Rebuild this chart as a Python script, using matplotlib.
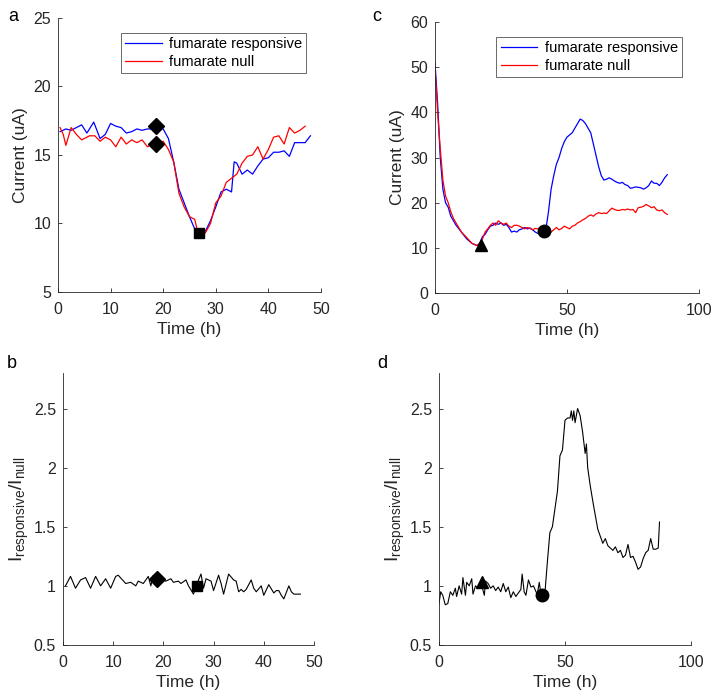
import matplotlib
matplotlib.use('Agg')
import matplotlib.pyplot as plt
import numpy as np

plt.rcParams['font.family'] = ['Liberation Sans', 'DejaVu Sans']
plt.rcParams['mathtext.default'] = 'regular'

# panel a: current traces (short run)
t_a_resp = [0.4, 1.5, 2.5, 3.5, 4.5, 5.5, 6.8, 8, 9, 10, 11, 12, 13, 14, 15, 16, 17, 18, 18.7,
            20, 21, 22, 23, 24, 25, 26, 27, 28, 29, 30, 31, 32, 33, 33.5, 34, 35, 36, 37, 38,
            39, 40, 41, 42, 43, 44, 45, 46, 47, 48]
i_a_resp = [16.7, 16.9, 16.8, 17.0, 17.2, 16.6, 17.4, 16.2, 16.5, 17.3, 17.1, 17.0, 16.6, 16.7,
            16.9, 16.8, 16.9, 16.9, 17.1, 16.9, 16.2, 14.5, 12.5, 11.5, 10.5, 9.6, 9.2, 9.4,
            10.2, 11.2, 12.3, 12.5, 12.3, 14.5, 14.4, 13.6, 13.9, 13.6, 14.2, 14.7, 14.8, 15.2,
            15.2, 15.3, 14.9, 15.9, 15.9, 15.9, 16.4]
t_a_null = [0.4, 1, 1.5, 2.5, 3.5, 4.5, 6, 7, 8, 9, 10, 11, 12, 13, 14, 15, 16, 17, 18, 19, 20,
            21, 22, 23, 24, 25, 26, 26.5, 27, 28, 29, 30, 31, 32, 33, 34, 35, 36, 37, 38, 39,
            40, 41, 42, 43, 44, 45, 46, 47]
i_a_null = [17.0, 16.5, 15.7, 17.0, 16.5, 16.1, 16.4, 16.4, 16.0, 16.3, 16.1, 15.6, 16.3, 15.8,
            16.1, 15.9, 16.1, 15.6, 15.8, 15.8, 16.0, 15.4, 14.5, 12.2, 11.2, 10.5, 10.3, 9.5,
            9.2, 9.3, 10.0, 11.5, 12.0, 13.0, 13.3, 13.6, 14.4, 14.9, 15.0, 15.6, 14.7, 15.4,
            16.3, 16.4, 15.8, 17.0, 16.6, 16.8, 17.1]

# panel b: ratio (short run)
t_b = [0.5, 1.5, 2.5, 3.5, 4.5, 5.5, 6.5, 7.5, 8.5, 9.5, 10.5, 11, 12.5, 13.5, 14.5, 15, 16, 17,
       17.5, 18, 18.7, 19.5, 20.5, 21.5, 22, 23, 23.5, 24.5, 25, 26, 27, 27.5, 28, 28.5, 29.5,
       30, 31, 31.5, 32, 33, 34, 34.5, 35, 35.5, 36, 36.5, 37.5, 38, 38.5, 39.5, 40, 41, 42,
       42.5, 43, 43.5, 44, 45, 45.5, 46, 47.3]
r_b = [1.0, 1.08, 0.98, 1.05, 1.07, 0.98, 1.08, 1.0, 1.06, 0.98, 1.08, 1.09, 1.02, 1.03, 1.0,
       1.04, 1.02, 1.08, 1.0, 1.09, 1.06, 1.05, 1.04, 1.06, 1.03, 1.04, 1.02, 1.05, 1.0, 0.93,
       1.05, 1.1, 0.98, 1.06, 1.04, 0.96, 1.09, 1.02, 0.93, 1.1, 1.05, 1.04, 0.95, 0.97, 0.95,
       0.97, 1.05, 0.98, 0.95, 1.0, 0.92, 1.01, 0.94, 0.96, 0.96, 0.92, 0.89, 1.0, 0.95, 0.93,
       0.93]

# panel c: current traces (long run)
t_c = [0, 1, 2, 3, 4, 5, 6, 7, 8, 10, 12, 14, 16, 17, 18, 19, 20, 21, 22, 23, 24, 25, 26, 27,
       28, 29, 30, 31, 32, 33, 34, 35, 36, 37, 38, 39, 40, 41, 42, 43, 44, 45, 46, 47, 48, 49,
       50, 51, 52, 53, 54, 55, 56, 57, 58, 59, 60, 61, 62, 63, 64, 65, 66, 67, 68, 69, 70, 71,
       72, 73, 74, 75, 76, 77, 78, 79, 80, 81, 82, 83, 84, 85, 86, 87, 88]
i_c_resp = [51, 42, 30, 23, 20, 19, 17, 16, 15, 13.5, 12, 11, 10.5, 11, 12.5, 13, 14, 14.8, 15,
            15.5, 15.2, 15.5, 15, 15.2, 14.5, 13.5, 13.7, 13.5, 14, 14.2, 14.5, 14.2, 14.4, 14,
            13.5, 13.2, 13, 13.5, 14, 18, 23, 26, 28.5, 30, 32, 33.5, 34.5, 35, 35.5, 36.5, 37.5,
            38.5, 38.2, 37.5, 36.5, 35.5, 33, 30.5, 28, 26, 25, 25.2, 25.5, 25.2, 24.8, 24.5,
            24.3, 24.5, 24, 23.8, 23.2, 23.3, 23.5, 23.4, 23.3, 23, 23.3, 23.8, 24.8, 24.3, 24.3,
            23.8, 24.5, 25.5, 26.2]
i_c_null = [50, 40, 32, 25, 21.5, 20, 18, 16.5, 15.5, 13.5, 12.3, 11, 10.5, 11, 12, 13.5, 14.2,
            15, 15.5, 15, 16, 15.5, 15.2, 15.5, 14.8, 14.5, 15, 15, 14.8, 14.5, 14.2, 14.5, 14.3,
            14, 14.3, 14.2, 14.5, 14, 13.5, 13.2, 13.5, 14, 14.5, 14, 14.3, 14.8, 14.5, 14.2,
            14.8, 15, 15.5, 15.8, 16.2, 16.5, 17, 17.3, 17, 17.5, 17.8, 17.6, 17.7, 17.6, 18.2,
            18.8, 18.5, 18.3, 18.3, 18.5, 18.4, 18.6, 18.4, 18.5, 17.8, 18.9, 19, 19.2, 19.6,
            19.3, 18.9, 19.1, 18.4, 18.2, 18.4, 17.8, 17.4]

# panel d: ratio (long run)
t_d = [0, 0.7, 1.5, 2.5, 3.5, 4.5, 5.5, 6.5, 7, 8, 9, 9.5, 10.5, 11, 12, 13, 13.5, 14.5, 15.5,
       16.5, 17, 18, 18.5, 19.5, 20.5, 21.5, 22.5, 23.5, 24.5, 25.5, 26.5, 27.5, 28.5, 29.5,
       30.5, 31.5, 32.5, 33, 33.8, 34.5, 35.5, 36.5, 37.5, 38.5, 39, 39.8, 40.3, 41, 42, 43, 44,
       45, 46, 47, 48, 49, 50, 51, 52, 52.5, 53, 53.5, 54, 55, 56, 57, 58, 58.5, 59, 60, 61, 62,
       63, 64, 65, 66, 67, 68, 69, 70, 71, 72, 73, 74, 75, 76, 77, 78, 79, 80, 81, 82, 83, 84,
       85, 86, 87, 87.5]
r_d = [0.85, 0.95, 0.92, 0.84, 0.85, 0.95, 0.92, 0.98, 0.91, 1.0, 0.93, 1.07, 0.92, 1.03, 1.0,
       1.06, 0.93, 1.0, 0.98, 1.03, 1.0, 0.92, 1.04, 1.02, 0.98, 1.0, 0.96, 0.99, 0.95, 1.02,
       0.95, 0.99, 0.9, 0.95, 0.91, 0.94, 0.97, 1.1, 0.95, 0.92, 1.05, 0.99, 1.0, 0.95, 0.93,
       1.03, 0.95, 0.92, 0.93, 1.2, 1.45, 1.5, 1.65, 1.8, 2.1, 2.15, 2.4, 2.42, 2.42, 2.48, 2.4,
       2.48, 2.38, 2.5, 2.44, 2.3, 2.12, 2.2, 2.0, 1.85, 1.72, 1.6, 1.48, 1.42, 1.36, 1.4, 1.34,
       1.32, 1.3, 1.33, 1.28, 1.3, 1.24, 1.26, 1.35, 1.24, 1.25, 1.2, 1.14, 1.16, 1.23, 1.28,
       1.3, 1.4, 1.31, 1.31, 1.32, 1.54]

# event markers
a_diamond_t = [18.7, 18.7]
a_diamond_i = [17.1, 15.8]
a_square = (26.8, 9.3)
b_diamond = (18.7, 1.06)
b_square = (26.7, 1.0)
c_triangle = (17.3, 10.7)
c_circle = (41.3, 13.8)
d_triangle = (17.0, 1.03)
d_circle = (41.0, 0.92)

txt = '#262626'
lab_fs = 12.5
tick_fs = 11.5

fig = plt.figure(figsize=(7.14, 6.99), dpi=100)
ax_a = fig.add_axes([0.0812, 0.5823, 0.3683, 0.392])
ax_c = fig.add_axes([0.6092, 0.5808, 0.3697, 0.3877])
ax_b = fig.add_axes([0.0882, 0.0773, 0.3515, 0.389])
ax_d = fig.add_axes([0.6148, 0.0773, 0.353, 0.389])


def style(ax):
    for s in ['top', 'right']:
        ax.spines[s].set_visible(False)
    for s in ['left', 'bottom']:
        ax.spines[s].set_color(txt)
        ax.spines[s].set_linewidth(0.6)
    ax.tick_params(direction='in', length=3, width=0.6, colors=txt, labelsize=tick_fs)
    ax.tick_params(axis='x', pad=7)
    ax.tick_params(axis='y', pad=5)
    ax.set_xlabel('Time (h)', fontsize=lab_fs, color=txt, labelpad=4)


def add_legend(ax, anchor):
    leg = ax.legend(loc='upper right', bbox_to_anchor=anchor, fontsize=10.5, frameon=True,
                    fancybox=False, edgecolor=txt, handlelength=2.5, borderpad=0.3,
                    labelspacing=0.25, handletextpad=0.5, borderaxespad=0)
    leg.get_frame().set_linewidth(0.6)


# a
ax_a.plot(t_a_resp, i_a_resp, color='blue', lw=0.9, label='fumarate responsive')
ax_a.plot(t_a_null, i_a_null, color='red', lw=0.9, label='fumarate null')
ax_a.plot(a_diamond_t, a_diamond_i, 'kD', ms=8)
ax_a.plot(*a_square, 'ks', ms=7)
ax_a.set_xlim(0, 50)
ax_a.set_ylim(5, 25)
ax_a.set_xticks([0, 10, 20, 30, 40, 50])
ax_a.set_yticks([5, 10, 15, 20, 25])
ax_a.set_ylabel('Current (uA)', fontsize=lab_fs, color=txt)
style(ax_a)
add_legend(ax_a, (0.945, 0.945))

# c
ax_c.plot(t_c, i_c_resp, color='blue', lw=0.9, label='fumarate responsive')
ax_c.plot(t_c, i_c_null, color='red', lw=0.9, label='fumarate null')
ax_c.plot(*c_triangle, 'k^', ms=9)
ax_c.plot(*c_circle, 'ko', ms=9)
ax_c.set_xlim(0, 100)
ax_c.set_ylim(0, 60)
ax_c.set_xticks([0, 50, 100])
ax_c.set_yticks([0, 10, 20, 30, 40, 50, 60])
ax_c.set_ylabel('Current (uA)', fontsize=lab_fs, color=txt)
style(ax_c)
add_legend(ax_c, (0.936, 0.945))

# b
ax_b.plot(t_b, r_b, color='black', lw=0.8)
ax_b.plot(*b_diamond, 'kD', ms=8)
ax_b.plot(*b_square, 'ks', ms=7)
ax_b.set_xlim(0, 50)
ax_b.set_ylim(0.5, 2.8)
ax_b.set_xticks([0, 10, 20, 30, 40, 50])
ax_b.set_yticks([0.5, 1, 1.5, 2, 2.5])
ax_b.set_yticklabels(['0.5', '1', '1.5', '2', '2.5'])
ax_b.set_ylabel('I$_{responsive}$/I$_{null}$', fontsize=14, color=txt, labelpad=2)
style(ax_b)

# d
ax_d.plot(t_d, r_d, color='black', lw=0.8)
ax_d.plot(*d_triangle, 'k^', ms=9)
ax_d.plot(*d_circle, 'ko', ms=9)
ax_d.set_xlim(0, 100)
ax_d.set_ylim(0.5, 2.8)
ax_d.set_xticks([0, 50, 100])
ax_d.set_yticks([0.5, 1, 1.5, 2, 2.5])
ax_d.set_yticklabels(['0.5', '1', '1.5', '2', '2.5'])
ax_d.set_ylabel('I$_{responsive}$/I$_{null}$', fontsize=14, color=txt, labelpad=2)
style(ax_d)

# panel letters
for lab, x, y in [('a', 0.012, 0.988), ('c', 0.522, 0.988), ('b', 0.010, 0.492), ('d', 0.528, 0.492)]:
    fig.text(x, y, lab, fontsize=13, color='black', va='top', ha='left')

fig.savefig('out.png', dpi=100)
